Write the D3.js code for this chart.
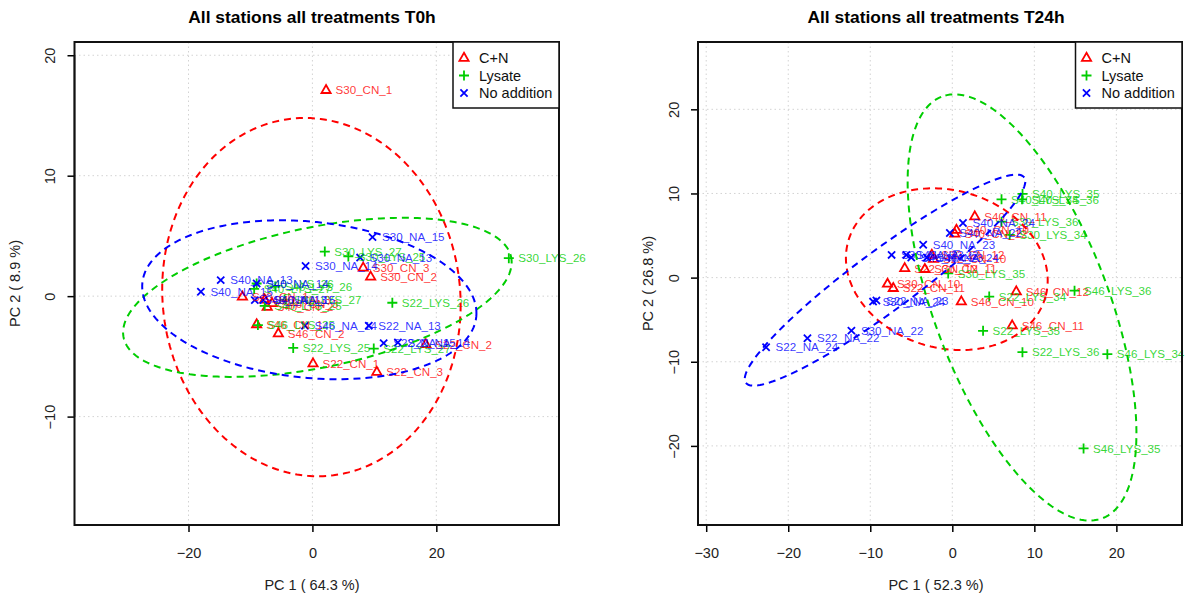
<!DOCTYPE html>
<html>
<head>
<meta charset="utf-8">
<script src="https://cdn.jsdelivr.net/npm/d3@7"></script>
<style>
  html, body { margin: 0; padding: 0; background: #fff; }
  svg { display: block; font-family: "Liberation Sans", Arial, Helvetica, sans-serif; }
</style>
</head>
<body>
<svg id="chart" width="1188" height="603"></svg>
<script>
// ---- treatments ----
const treatments = ["C+N", "Lysate", "No addition"];
const treatmentColors = ["#FF0000", "#00CD00", "#0000FF"];

// ---- T0h scores (PC1, PC2) ----
const t0CnNames = ["S22_CN_1", "S22_CN_2", "S22_CN_3", "S30_CN_1", "S30_CN_2", "S30_CN_3",
                   "S40_CN_1", "S40_CN_2", "S40_CN_3", "S46_CN_1", "S46_CN_2", "S46_CN_3"];
const t0CnPC1 = [0.1, 18.3, 10.4, 2.2, 9.4, 8.2, -11.3, -7.3, -7.7, -9.0, -5.5, -6.5];
const t0CnPC2 = [-5.6, -4.0, -6.3, 17.1, 1.6, 2.35, -0.05, -0.9, -0.3, -2.35, -3.1, -0.6];

const t0LysNames = ["S22_LYS_25", "S22_LYS_26", "S22_LYS_27", "S30_LYS_25", "S30_LYS_26", "S30_LYS_27",
                    "S40_LYS_25", "S40_LYS_26", "S40_LYS_27", "S46_LYS_25", "S46_LYS_26", "S46_LYS_27"];
const t0LysPC1 = [-3.1, 12.9, 9.9, 5.8, 31.7, 2.0, -7.7, -9.0, -9.4, -8.8, -6.0, -4.5];
const t0LysPC2 = [-4.3, -0.55, -4.35, 3.3, 3.15, 3.7, -0.8, 1.05, 0.6, -2.4, 0.8, -0.3];

const t0NaNames = ["S22_NA_13", "S22_NA_14", "S22_NA_15", "S30_NA_13", "S30_NA_14", "S30_NA_15",
                   "S40_NA_13", "S40_NA_14", "S40_NA_15", "S46_NA_13", "S46_NA_14", "S46_NA_15"];
const t0NaPC1 = [9.1, 13.8, 11.5, 7.7, -1.1, 9.7, -14.8, -9.0, -18.0, -9.3, -1.2, -7.9];
const t0NaPC2 = [-2.45, -3.85, -3.9, 3.2, 2.5, 4.9, 1.33, 1.05, 0.36, -0.33, -2.45, -0.33];

// ---- T24h scores (PC1, PC2) ----
const t24CnNames = ["S22_CN_10", "S22_CN_11", "S22_CN_12", "S30_CN_10", "S30_CN_11", "S30_CN_12",
                    "S40_CN_10", "S40_CN_11", "S40_CN_12", "S46_CN_10", "S46_CN_11", "S46_CN_12"];
const t24CnPC1 = [-2.3, -7.2, -5.8, -7.9, -3.35, -2.5, 0.5, 2.74, 0.3, 1.1, 7.3, 7.8];
const t24CnPC2 = [2.2, -1.26, 1.1, -0.75, 1.0, 2.7, 5.66, 7.25, 5.2, -2.85, -5.7, -1.66];

const t24LysNames = ["S22_LYS_34", "S22_LYS_35", "S22_LYS_36", "S30_LYS_34", "S30_LYS_35", "S30_LYS_36",
                     "S40_LYS_34", "S40_LYS_35", "S40_LYS_36", "S46_LYS_34", "S46_LYS_35", "S46_LYS_36"];
const t24LysPC1 = [4.5, 3.75, 8.55, 7.0, -0.5, 6.0, 6.0, 8.56, 8.5, 18.9, 16.0, 14.9];
const t24LysPC2 = [-2.25, -6.33, -8.86, 5.07, 0.5, 6.65, 9.3, 9.94, 9.3, -9.1, -20.3, -1.55];

const t24NaNames = ["S22_NA_22", "S22_NA_23", "S22_NA_24", "S30_NA_22", "S30_NA_23", "S30_NA_24",
                    "S40_NA_22", "S40_NA_23", "S40_NA_24", "S46_NA_22", "S46_NA_23", "S46_NA_24"];
const t24NaPC1 = [-17.66, -9.25, -22.7, -12.3, -7.4, -9.66, -0.3, -3.55, 1.3, -5.6, -5.0, -3.1];
const t24NaPC2 = [-7.2, -2.73, -8.27, -6.3, 2.7, -2.85, 5.3, 3.9, 6.5, 2.7, 2.4, 2.4];

// ---- 95% ellipses per treatment: centre, semi-axes, rotation (degrees) ----
const t0EllipseCx = [-0.16, 0.8, -0.5];
const t0EllipseCy = [-0.08, -0.1, -0.3];
const t0EllipseA = [24.1, 31.5, 27.0];
const t0EllipseB = [14.85, 5.9, 6.5];
const t0EllipseAngle = [-2.5, 5.5, -2.5];

const t24EllipseCx = [-0.67, 8.5, -8.2];
const t24EllipseCy = [1.0, -3.55, -0.3];
const t24EllipseA = [12.47, 26.9, 20.9];
const t24EllipseB = [9.39, 10.6, 3.6];
const t24EllipseAngle = [-14.5, 111.5, 35.7];

// ---- axes ----
const t0XTicks = [-20, 0, 20];
const t0YTicks = [-10, 0, 10, 20];
const t24XTicks = [-30, -20, -10, 0, 10, 20];
const t24YTicks = [-20, -10, 0, 10, 20];

const panels = [
  {
    title: "All stations all treatments T0h",
    xTitle: "PC 1 ( 64.3 %)", yTitle: "PC 2 ( 8.9 %)",
    xDomain: [-38.4, 39.8], yDomain: [-19.0, 21.1],
    xTicks: t0XTicks, yTicks: t0YTicks,
    groups: [
      { names: t0CnNames, pc1: t0CnPC1, pc2: t0CnPC2 },
      { names: t0LysNames, pc1: t0LysPC1, pc2: t0LysPC2 },
      { names: t0NaNames, pc1: t0NaPC1, pc2: t0NaPC2 }
    ],
    ell: { cx: t0EllipseCx, cy: t0EllipseCy, a: t0EllipseA, b: t0EllipseB, ang: t0EllipseAngle },
    box: { left: 74.5, right: 559, top: 42, bottom: 525 },
    titleX: 312, yTitleX: 20, legendLeft: 453
  },
  {
    title: "All stations all treatments T24h",
    xTitle: "PC 1 ( 52.3 %)", yTitle: "PC 2 ( 26.8 %)",
    xDomain: [-31.0, 28.0], yDomain: [-29.4, 28.0],
    xTicks: t24XTicks, yTicks: t24YTicks,
    groups: [
      { names: t24CnNames, pc1: t24CnPC1, pc2: t24CnPC2 },
      { names: t24LysNames, pc1: t24LysPC1, pc2: t24LysPC2 },
      { names: t24NaNames, pc1: t24NaPC1, pc2: t24NaPC2 }
    ],
    ell: { cx: t24EllipseCx, cy: t24EllipseCy, a: t24EllipseA, b: t24EllipseB, ang: t24EllipseAngle },
    box: { left: 698, right: 1182, top: 42, bottom: 525 },
    titleX: 936, yTitleX: 653, legendLeft: 1075.5
  }
];

// open triangle, plus, cross
const markerPaths = [
  "M0,-5.2L4.6,2.8L-4.6,2.8Z",
  "M-5,0H5M0,-5V5",
  "M-3.6,-3.6L3.6,3.6M-3.6,3.6L3.6,-3.6"
];

const svg = d3.select("#chart");
const BASE = 14.5;

function ellipsePoints(cx, cy, a, b, angDeg) {
  const th = angDeg * Math.PI / 180;
  return d3.range(0, 361, 2).map(deg => {
    const t = deg * Math.PI / 180;
    const dx = a * Math.cos(t), dy = b * Math.sin(t);
    return [cx + dx * Math.cos(th) - dy * Math.sin(th), cy + dx * Math.sin(th) + dy * Math.cos(th)];
  });
}

panels.forEach((p, pi) => {
  const g = svg.append("g").attr("class", "panel-" + pi);
  const { left, right, top, bottom } = p.box;
  const x = d3.scaleLinear().domain(p.xDomain).range([left, right]);
  const y = d3.scaleLinear().domain(p.yDomain).range([bottom, top]);

  const clipId = "clip" + pi;
  g.append("clipPath").attr("id", clipId)
    .append("rect").attr("x", left).attr("y", top).attr("width", right - left).attr("height", bottom - top);

  // dotted grid at tick positions
  const grid = g.append("g").attr("stroke", "#D3D3D3").attr("stroke-width", 1).attr("stroke-dasharray", "1.5,3");
  grid.selectAll("line.vx").data(p.xTicks).join("line")
    .attr("x1", d => x(d)).attr("x2", d => x(d)).attr("y1", top).attr("y2", bottom);
  grid.selectAll("line.hy").data(p.yTicks).join("line")
    .attr("y1", d => y(d)).attr("y2", d => y(d)).attr("x1", left).attr("x2", right);

  // markers
  p.groups.forEach((grp, gi) => {
    const col = treatmentColors[gi];
    g.append("g").selectAll("path").data(grp.names).join("path")
      .attr("d", markerPaths[gi])
      .attr("transform", (d, i) => `translate(${x(grp.pc1[i])},${y(grp.pc2[i])})`)
      .attr("fill", "none").attr("stroke", col).attr("stroke-width", 1.8);
  });

  // sample labels (allowed to run past the frame)
  p.groups.forEach((grp, gi) => {
    const col = treatmentColors[gi];
    g.append("g").selectAll("text").data(grp.names).join("text")
      .attr("x", (d, i) => x(grp.pc1[i]) + 9.5)
      .attr("y", (d, i) => y(grp.pc2[i]) + 4.2)
      .attr("fill", col).attr("fill-opacity", 0.8)
      .attr("font-size", 11.6)
      .text(d => d);
  });

  // dashed ellipses, clipped to the plot region
  const plot = g.append("g").attr("clip-path", `url(#${clipId})`);
  const line = d3.line().x(d => x(d[0])).y(d => y(d[1])).curve(d3.curveLinearClosed);
  treatments.forEach((t, gi) => {
    plot.append("path")
      .attr("d", line(ellipsePoints(p.ell.cx[gi], p.ell.cy[gi], p.ell.a[gi], p.ell.b[gi], p.ell.ang[gi])))
      .attr("fill", "none").attr("stroke", treatmentColors[gi])
      .attr("stroke-width", 2).attr("stroke-dasharray", "7,5");
  });

  // axes
  const xAxis = d3.axisBottom(x).tickValues(p.xTicks).tickSize(7).tickSizeOuter(0).tickPadding(16)
    .tickFormat(d3.format("d"));
  const xg = g.append("g").attr("transform", `translate(0,${bottom})`).call(xAxis);
  xg.select(".domain").remove();
  xg.append("line").attr("x1", x(p.xTicks[0])).attr("x2", x(p.xTicks[p.xTicks.length - 1]))
    .attr("stroke", "#000").attr("stroke-width", 1.5);
  xg.selectAll(".tick line").attr("stroke", "#000").attr("stroke-width", 1.5);
  xg.selectAll(".tick text").attr("font-size", BASE).attr("fill", "#222").attr("font-family", null);

  const yAxis = d3.axisLeft(y).tickValues(p.yTicks).tickSize(7).tickSizeOuter(0).tickFormat(d3.format("d"));
  const yg = g.append("g").attr("transform", `translate(${left},0)`).call(yAxis);
  yg.select(".domain").remove();
  yg.append("line").attr("y1", y(p.yTicks[0])).attr("y2", y(p.yTicks[p.yTicks.length - 1]))
    .attr("stroke", "#000").attr("stroke-width", 1.5);
  yg.selectAll(".tick line").attr("stroke", "#000").attr("stroke-width", 1.5);
  yg.selectAll(".tick text")
    .attr("x", 0).attr("dy", 0)
    .attr("text-anchor", "middle")
    .attr("transform", "translate(-19.5,0) rotate(-90)")
    .attr("font-size", BASE).attr("fill", "#222").attr("font-family", null);

  // plot frame
  g.append("rect").attr("x", left).attr("y", top).attr("width", right - left).attr("height", bottom - top)
    .attr("fill", "none").attr("stroke", "#111").attr("stroke-width", 2);

  // titles
  g.append("text").attr("x", p.titleX).attr("y", 23).attr("text-anchor", "middle")
    .attr("font-size", 17.4).attr("font-weight", "bold").attr("fill", "#000").text(p.title);
  g.append("text").attr("x", p.titleX).attr("y", 590).attr("text-anchor", "middle")
    .attr("font-size", BASE).attr("fill", "#222").text(p.xTitle);
  g.append("text").attr("transform", `translate(${p.yTitleX},${(top + bottom) / 2}) rotate(-90)`)
    .attr("text-anchor", "middle").attr("font-size", BASE).attr("fill", "#222").text(p.yTitle);

  // legend
  const lg = g.append("g");
  lg.append("rect").attr("x", p.legendLeft).attr("y", top).attr("width", right - p.legendLeft).attr("height", 66)
    .attr("fill", "#fff").attr("stroke", "#111").attr("stroke-width", 1.5);
  treatments.forEach((t, gi) => {
    const cy = 58 + gi * 17.5;
    lg.append("path").attr("d", markerPaths[gi])
      .attr("transform", `translate(${p.legendLeft + 11},${cy})`)
      .attr("fill", "none").attr("stroke", treatmentColors[gi]).attr("stroke-width", 1.8);
    lg.append("text").attr("x", p.legendLeft + 26).attr("y", cy + 5.2)
      .attr("font-size", BASE).attr("fill", "#111").text(t);
  });
});
</script>
</body>
</html>
